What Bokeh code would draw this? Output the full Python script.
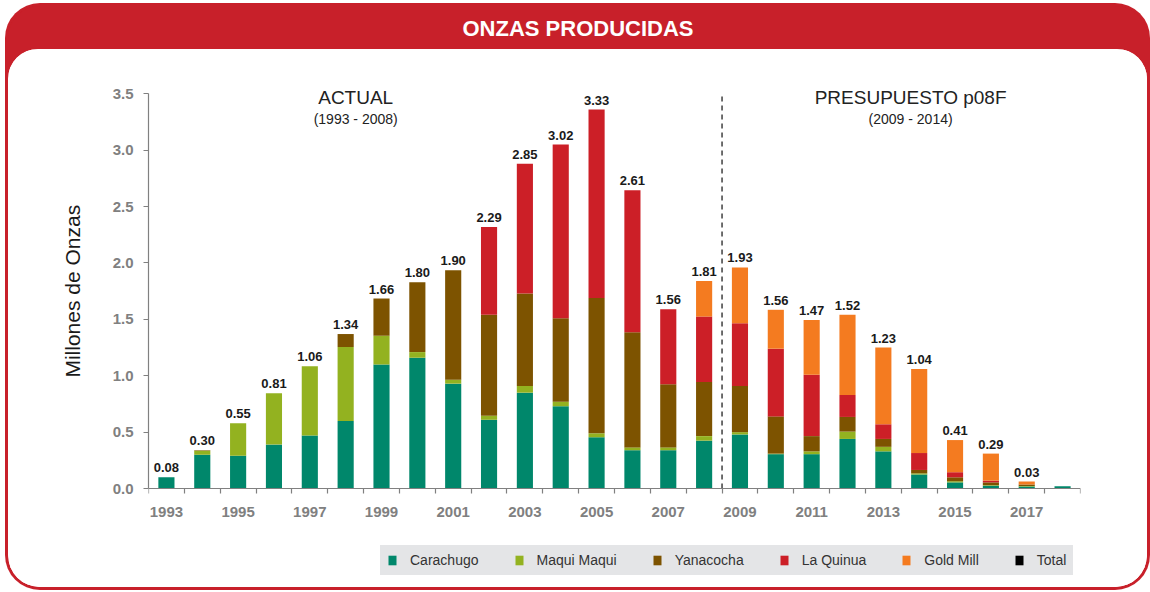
import math
from bokeh.plotting import figure
from bokeh.models import (ColumnDataSource, FixedTicker, NumeralTickFormatter,
                          Legend, LegendItem, Range1d, Label)
from bokeh.layouts import column, row
from bokeh.embed import file_html
from bokeh.resources import INLINE
from bokeh.core.properties import value

# ---------------- data ----------------
years = list(range(1993, 2019))
label_years = list(range(1993, 2018, 2))
series_names = ["Carachugo", "Maqui Maqui", "Yanacocha", "La Quinua", "Gold Mill"]
carachugo = [0.10, 0.30, 0.29, 0.39, 0.47, 0.60, 1.10, 1.16, 0.93, 0.61, 0.85, 0.73, 0.455,
             0.34, 0.34, 0.425, 0.48, 0.305, 0.305, 0.44, 0.33, 0.125, 0.055, 0.025, 0.018, 0.02]
maqui_maqui = [0.0, 0.035, 0.29, 0.455, 0.615, 0.655, 0.255, 0.05, 0.035, 0.035, 0.06, 0.04, 0.035,
               0.025, 0.025, 0.04, 0.02, 0.005, 0.025, 0.065, 0.04, 0.01, 0.01, 0.005, 0.005, 0.0]
yanacocha = [0.0, 0.005, 0.0, 0.0, 0.0, 0.115, 0.33, 0.62, 0.97, 0.895, 0.82, 0.74, 1.20,
             1.02, 0.56, 0.48, 0.41, 0.33, 0.135, 0.13, 0.07, 0.03, 0.035, 0.025, 0.012, 0.0]
la_quinua = [0.0, 0.0, 0.0, 0.0, 0.0, 0.0, 0.0, 0.0, 0.0, 0.78, 1.15, 1.54, 1.67,
             1.26, 0.665, 0.58, 0.555, 0.60, 0.545, 0.195, 0.13, 0.15, 0.045, 0.015, 0.0, 0.0]
gold_mill = [0.0, 0.0, 0.0, 0.0, 0.0, 0.0, 0.0, 0.0, 0.0, 0.0, 0.0, 0.0, 0.0,
             0.0, 0.0, 0.315, 0.495, 0.345, 0.485, 0.71, 0.68, 0.745, 0.285, 0.24, 0.027, 0.0]
totals = [0.08, 0.30, 0.55, 0.81, 1.06, 1.34, 1.66, 1.80, 1.90, 2.29, 2.85, 3.02, 3.33,
          2.61, 1.56, 1.81, 1.93, 1.56, 1.47, 1.52, 1.23, 1.04, 0.41, 0.29, 0.03, None]
y_ticks = [0.0, 0.5, 1.0, 1.5, 2.0, 2.5, 3.0, 3.5]
y_title = "Millones de Onzas"
divider_year = 2008.5

colors = ["#00876b", "#93b220", "#7d5300", "#cc1f27", "#f47b20"]
RED = "#c8202a"
GRAY = "#808080"
LEGEND_BG = "#e4e5e7"

keys = ["carachugo", "maqui", "yanacocha", "laquinua", "goldmill"]
stack_top = [sum(v) for v in zip(carachugo, maqui_maqui, yanacocha, la_quinua, gold_mill)]
source = ColumnDataSource(dict(
    year=years, carachugo=carachugo, maqui=maqui_maqui, yanacocha=yanacocha,
    laquinua=la_quinua, goldmill=gold_mill,
    total=[t if t is not None else float("nan") for t in totals],
    top=stack_top,
    label=["%.2f" % t if t is not None else "" for t in totals],
))

W = 1139
H = 538
LW = 95          # width of the strip that holds the y axis title

# ---------------- title band ----------------
tf = figure(width=W, height=43, x_range=(0, 1), y_range=(0, 1),
            toolbar_location=None, output_backend="svg",
            x_axis_location=None, y_axis_location=None, min_border=0)
tf.grid.visible = False
tf.outline_line_color = None
tf.background_fill_color = RED
tf.border_fill_color = RED
tf.text(x=[0.5], y=[0.5], text=["ONZAS PRODUCIDAS"], text_align="center",
        text_baseline="middle", text_color="white", text_font_size="22px",
        text_font_style="bold", text_font=value("Liberation Sans"))
tf.styles = {"background-color": RED}

# shared vertical range: frame runs below zero so the legend fits under the x axis
yr = Range1d(-0.815, 3.6)

# ---------------- y-axis title strip ----------------
lf = figure(width=LW, height=H, x_range=Range1d(0, LW), y_range=yr,
            toolbar_location=None, output_backend="svg",
            x_axis_location=None, y_axis_location=None,
            min_border_left=0, min_border_right=0, min_border_top=33, min_border_bottom=7)
lf.grid.visible = False
lf.outline_line_color = None
lf.background_fill_color = "white"
lf.border_fill_color = "white"
lf.text(x=[64], y=[(y_ticks[0] + y_ticks[-1]) / 2], text=[y_title], angle=math.pi / 2,
        text_align="center", text_baseline="middle", text_font_size="21px",
        text_color="#1a1a1a", text_font=value("Liberation Sans"))
lf.styles = {"border-radius": "30px 0 0 30px", "overflow": "hidden",
             "background-color": "white"}

# ---------------- main chart ----------------
p = figure(width=W - LW, height=H, x_range=Range1d(1992.5, 2018.5),
           y_range=yr, toolbar_location=None, output_backend="svg",
           min_border_left=148 - 8 - LW, min_border_right=67, min_border_top=33,
           min_border_bottom=7)
p.background_fill_color = "white"
p.border_fill_color = "white"
p.outline_line_color = None
p.grid.grid_line_color = None

rs = p.vbar_stack(keys, x="year", width=0.45, color=colors, line_color=None, source=source)
r_total = p.vbar(x="year", top="total", width=0, fill_color="black", line_color=None,
                 source=source)

p.text(x="year", y="top", text="label", source=source, text_align="center",
       text_baseline="bottom", y_offset=-5, text_font_size="13px",
       text_font_style="bold", text_color="#1a1a1a",
       text_font=value("Liberation Sans"))

p.segment(x0=[divider_year], y0=[0], x1=[divider_year], y1=[y_ticks[-1]],
          line_color="#222222", line_dash="5 4", line_width=1.3)

for txt, xx, yy, fs in [("ACTUAL", 1998.28, 3.465, "19px"),
                        ("(1993 - 2008)", 1998.28, 3.28, "14px"),
                        ("PRESUPUESTO p08F", 2013.76, 3.465, "19px"),
                        ("(2009 - 2014)", 2013.76, 3.28, "14px")]:
    p.add_layout(Label(x=xx, y=yy, text=txt, text_align="center", text_baseline="middle",
                       text_font_size=fs, text_color="#222222",
                       text_font="Liberation Sans"))

# axes
p.yaxis.ticker = FixedTicker(ticks=y_ticks)
p.yaxis.formatter = NumeralTickFormatter(format="0.0")
p.yaxis.bounds = (0, 3.5)
p.yaxis.major_tick_out = 5
p.yaxis.major_tick_in = 0
p.yaxis.minor_tick_line_color = None
p.yaxis.major_label_standoff = 10

p.xaxis.fixed_location = 0
p.xaxis.ticker = FixedTicker(ticks=label_years,
                             minor_ticks=[y - 0.5 for y in years] + [years[-1] + 0.5])
p.xaxis.major_tick_out = 0
p.xaxis.major_tick_in = 0
p.xaxis.minor_tick_out = 5
p.xaxis.minor_tick_in = 0
p.xaxis.major_label_standoff = 13

for ax in (p.xaxis, p.yaxis):
    ax.axis_line_color = GRAY
    ax.axis_line_width = 1.2
    ax.major_tick_line_color = GRAY
    ax.major_label_text_color = GRAY
    ax.major_label_text_font = "Liberation Sans"
    ax.major_label_text_font_size = "15px"
    ax.major_label_text_font_style = "bold"
p.xaxis.minor_tick_line_color = GRAY
p.xaxis.minor_tick_line_width = 1.2

items = [LegendItem(label=n, renderers=[r]) for n, r in zip(series_names, rs)]
items.append(LegendItem(label="Total", renderers=[r_total]))
legend = Legend(items=items, orientation="horizontal", location=(232, 5),
                background_fill_color=LEGEND_BG, background_fill_alpha=1.0,
                border_line_color=LEGEND_BG, border_line_width=1,
                padding=6, spacing=35, label_standoff=13,
                glyph_width=10, glyph_height=12, label_height=14,
                label_text_font="Liberation Sans", label_text_font_size="14px",
                label_text_color="#333333", margin=0)
p.add_layout(legend)

p.styles = {"border-radius": "0 30px 30px 0", "overflow": "hidden",
            "background-color": "white"}

layout = column(tf, row(lf, p), styles={"background-color": RED, "border-radius": "32px",
                                        "overflow": "hidden",
                                        "box-shadow": "0 0 0 3px " + RED,
                                        "margin-top": "6px", "margin-left": "8px"})

open("out.html", "w").write(file_html(layout, INLINE))
